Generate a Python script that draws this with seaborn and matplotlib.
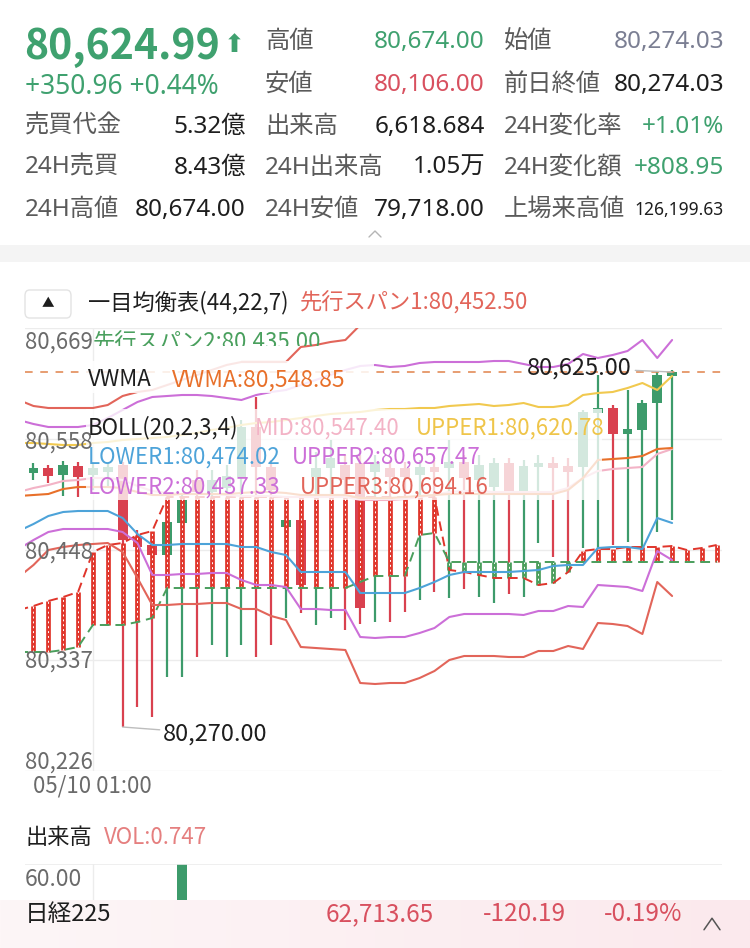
import numpy as np
import pandas as pd
import matplotlib.pyplot as plt
import seaborn as sns
from matplotlib.patches import Rectangle, FancyBboxPatch
from matplotlib.lines import Line2D
from matplotlib.colors import LinearSegmentedColormap

sns.set_theme(style="white")
plt.rcParams["font.family"] = ["Noto Sans CJK JP", "DejaVu Sans"]
HEAD_FONT = ["Noto Sans", "Noto Sans CJK JP"]

W, H = 750, 948

# ---------------- data ----------------
band_idx = list(range(-1, 44))
upper3 = [80597, 80591, 80589, 80589, 80589, 80589, 80592, 80601, 80605, 80607, 80612, 80617, 80622, 80627, 80632,
          80635, 80635, 80635, 80635, 80650, 80652, 80655, 80657, 80672, 80675, 80674, 80675, 80677, 80677, 80677,
          80679, 80679, 80679, 80677, 80675, 80671, 80675, 80679, 80692, 80689, 80691, 80697, 80707, 80687, 80694]
upper2 = [80577, 80573, 80570, 80570, 80570, 80572, 80579, 80587, 80595, 80600, 80601, 80602, 80602, 80601, 80599,
          80597, 80602, 80605, 80607, 80612, 80617, 80622, 80627, 80631, 80632, 80630, 80631, 80634, 80635, 80635,
          80635, 80635, 80636, 80636, 80633, 80630, 80630, 80633, 80643, 80639, 80642, 80646, 80657, 80639, 80657]
upper1 = [80554, 80554, 80553, 80552, 80552, 80554, 80555, 80557, 80558, 80559, 80560, 80562, 80564, 80567, 80569,
          80572, 80574, 80575, 80577, 80579, 80581, 80583, 80584, 80585, 80587, 80588, 80588, 80589, 80589, 80591,
          80592, 80593, 80591, 80592, 80594, 80590, 80590, 80592, 80602, 80604, 80605, 80609, 80614, 80607, 80621]
mid = [80505, 80509, 80512, 80516, 80517, 80519, 80519, 80517, 80511, 80506, 80504, 80503, 80503, 80503, 80502,
       80501, 80501, 80501, 80500, 80500, 80500, 80500, 80500, 80497, 80497, 80497, 80498, 80500, 80502, 80505,
       80506, 80506, 80505, 80505, 80505, 80505, 80505, 80509, 80519, 80526, 80528, 80529, 80530, 80543, 80548]
vwma = [80501, 80502, 80503, 80508, 80510, 80510, 80510, 80509, 80505, 80502, 80502, 80503, 80503, 80503, 80503,
        80504, 80505, 80505, 80504, 80502, 80502, 80502, 80502, 80499, 80499, 80499, 80500, 80501, 80502, 80503,
        80503, 80503, 80503, 80503, 80503, 80503, 80503, 80507, 80519, 80537, 80538, 80539, 80541, 80548, 80549]
lower1 = [80466, 80473, 80481, 80485, 80486, 80486, 80486, 80479, 80463, 80452, 80452, 80453, 80453, 80453, 80453,
          80450, 80450, 80445, 80442, 80425, 80425, 80425, 80425, 80404, 80404, 80404, 80404, 80409, 80415, 80422,
          80425, 80425, 80425, 80425, 80426, 80427, 80431, 80432, 80432, 80449, 80450, 80450, 80448, 80479, 80474]
lower2 = [80448, 80457, 80465, 80468, 80468, 80468, 80468, 80465, 80454, 80422, 80422, 80423, 80423, 80424, 80424,
          80417, 80412, 80412, 80410, 80388, 80388, 80387, 80387, 80360, 80359, 80360, 80360, 80364, 80369, 80380,
          80383, 80383, 80383, 80383, 80382, 80386, 80386, 80391, 80390, 80412, 80411, 80410, 80406, 80446, 80437]
lower3 = [80420, 80432, 80447, 80450, 80452, 80453, 80454, 80445, 80419, 80392, 80392, 80393, 80393, 80394, 80394,
          80388, 80388, 80381, 80377, 80350, 80349, 80348, 80347, 80314, 80313, 80314, 80314, 80319, 80326, 80337,
          80341, 80341, 80341, 80340, 80340, 80346, 80346, 80351, 80348, 80374, 80373, 80371, 80363, 80415, 80401]

cloud_idx = list(range(-1, 47))
span1 = [80387, 80391, 80396, 80400, 80405, 80445, 80452, 80454, 80462, 80466, 80500, 80500, 80500, 80500, 80500,
         80500, 80500, 80500, 80500, 80500, 80500, 80500, 80500, 80500, 80500, 80500, 80500, 80500, 80500, 80427,
         80425, 80422, 80419, 80419, 80419, 80412, 80414, 80425, 80446, 80448, 80448, 80450, 80450, 80450, 80451,
         80447, 80449, 80452]
span2 = [80345, 80345, 80345, 80347, 80350, 80372, 80372, 80372, 80375, 80379, 80409, 80409, 80409, 80409, 80409,
         80409, 80409, 80409, 80409, 80409, 80409, 80409, 80409, 80415, 80421, 80421, 80421, 80462, 80464, 80435,
         80435, 80435, 80435, 80435, 80435, 80435, 80435, 80435, 80435, 80435, 80435, 80435, 80435, 80435, 80435,
         80435, 80435, 80435]

candle_idx = list(range(44))
opens = [80524, 80529, 80522, 80531, 80522, 80525, 80532, 80460, 80452, 80442, 80474, 80517, 80505, 80509, 80520,
         80570, 80530, 80470, 80477, 80520, 80529, 80532, 80534, 80525, 80529, 80529, 80522, 80530, 80529, 80535,
         80517, 80510, 80534, 80504, 80530, 80534, 80531, 80530, 80584, 80589, 80563, 80567, 80594, 80621]
closes = [80529, 80521, 80532, 80520, 80529, 80530, 80457, 80450, 80442, 80475, 80497, 80505, 80517, 80521, 80570,
          80530, 80507, 80477, 80412, 80529, 80539, 80517, 80389, 80535, 80520, 80520, 80530, 80525, 80535, 80519,
          80532, 80534, 80504, 80531, 80534, 80529, 80525, 80585, 80589, 80563, 80568, 80594, 80622, 80625]
highs = [80534, 80532, 80536, 80535, 80534, 80535, 80535, 80467, 80457, 80482, 80502, 80527, 80527, 80532, 80577,
         80600, 80537, 80492, 80487, 80545, 80557, 80542, 80542, 80542, 80537, 80535, 80537, 80537, 80557, 80542,
         80542, 80539, 80539, 80537, 80542, 80540, 80539, 80587, 80622, 80592, 80607, 80597, 80625, 80627]
lows = [80517, 80514, 80501, 80500, 80507, 80509, 80270, 80290, 80280, 80320, 80320, 80340, 80352, 80340, 80352,
        80340, 80352, 80379, 80384, 80372, 80379, 80367, 80373, 80375, 80375, 80385, 80397, 80405, 80399, 80408,
        80400, 80394, 80403, 80400, 80454, 80440, 80424, 80449, 80449, 80452, 80455, 80447, 80465, 80477]
volumes = [3, 2, 4, 3, 2, 2, 18, 9, 7, 12, 75, 6, 5, 5, 8, 7, 6, 5, 10, 4, 4, 5, 14, 4, 3, 3, 3, 3, 4, 3,
           3, 4, 4, 4, 3, 2, 2, 6, 5, 5, 3, 4, 6, 1]

ytick_vals = [80226, 80336.75, 80447.5, 80558.25, 80669]
ytick_labels = ["80,226", "80,337", "80,448", "80,558", "80,669"]
last_price = 80625

GREEN = "#3d9b6b"
RED = "#d9414f"
CLOUD_RED = "#e0352b"
CLOUD_GREEN = "#4a9e5c"
BLUE = "#4da3d9"
PURPLE = "#cc6fd8"
BAND_RED = "#e2655a"
YELLOW = "#f1c94f"
PINK = "#f3b3c6"
ORANGE = "#e8702a"
HEAD_GREEN = "#3fa16f"
HEAD_RED = "#d8505f"
LABEL = "#5a5a5a"
DARK = "#1e1e1e"
AXIS_TXT = "#6b6b6b"


def fx(x):
    return x / W


def fy(y):
    return 1 - y / H


fig = plt.figure(figsize=(7.5, 9.48), dpi=100)
fig.patch.set_facecolor("white")

# ---------------- header ----------------
fig.text(fx(24), fy(47), "80,624.99", fontsize=29.5, fontweight="bold", color=HEAD_GREEN, va="center")
fig.text(fx(224), fy(45), "⬆", fontsize=18, color=HEAD_GREEN, va="center", family=["DejaVu Sans"])
fig.text(fx(25), fy(87), "+350.96 +0.44%", fontsize=19, color=HEAD_GREEN, va="center", family=HEAD_FONT)

rows_y = [42, 85, 127, 168, 210]
left_col = [None, None, ("売買代金", "5.32億", DARK), ("24H売買", "8.43億", DARK), ("24H高値", "80,674.00", DARK)]
mid_col = [("高値", "80,674.00", HEAD_GREEN), ("安値", "80,106.00", HEAD_RED), ("出来高", "6,618.684", DARK),
           ("24H出来高", "1.05万", DARK), ("24H安値", "79,718.00", DARK)]
right_col = [("始値", "80,274.03", "#7b7f93"), ("前日終値", "80,274.03", DARK), ("24H変化率", "+1.01%", HEAD_GREEN),
             ("24H変化額", "+808.95", HEAD_GREEN), ("上場来高値", "126,199.63", DARK)]
for cols, x0, x1 in [(left_col, 25, 246), (mid_col, 265, 485), (right_col, 504, 724)]:
    for y, item in zip(rows_y, cols):
        if item is None:
            continue
        lab, val, col = item
        fig.text(fx(x0), fy(y), lab, fontsize=17.5, color=LABEL, va="center", family=HEAD_FONT)
        size = 12.5 if val == "126,199.63" else 17.5
        fig.text(fx(x1), fy(y), val, fontsize=size, color=col, va="center", ha="right", family=HEAD_FONT)

fig.add_artist(Line2D([fx(369), fx(375), fx(381)], [fy(237), fy(231), fy(237)], transform=fig.transFigure,
                      color="#b5b5b5", lw=1))
fig.add_artist(Rectangle((0, fy(262)), 1, 17 / H, transform=fig.transFigure, color="#f4f4f4", lw=0))

# ---------------- indicator legend top ----------------
fig.add_artist(FancyBboxPatch((fx(25), fy(318)), 46 / W, 28 / H, boxstyle="round,pad=0,rounding_size=0.006",
                              transform=fig.transFigure, facecolor="white", edgecolor="#e3e3e3", lw=1))
fig.text(fx(48), fy(304), "▲", fontsize=9, color=DARK, ha="center", va="center")
fig.text(fx(88), fy(303), "一目均衡表(44,22,7)", fontsize=16, color=DARK, va="center")
fig.text(fx(300), fy(303), "先行スパン1:80,452.50", fontsize=16, color=BAND_RED, va="center")

# ---------------- main chart ----------------
ax = fig.add_axes([fx(25), fy(771), 697 / W, 443 / H])
ax.set_xlim(-0.572, 46.36)
ax.set_ylim(80226, 80669)
ax.set_yticks(ytick_vals)
ax.set_xticks([])
ax.tick_params(left=False, labelleft=False)
for s in ax.spines.values():
    s.set_visible(False)
ax.grid(axis="y", color="#ececec", lw=1)
ax.axhline(80669, color="#ececec", lw=1.2)
ax.axvline(4, color="#ececec", lw=1)

# candles
o = np.array(opens)
c = np.array(closes)
ci = np.array(candle_idx)
ccol = [GREEN if cc >= oo else RED for oo, cc in zip(o, c)]
ax.vlines(ci, lows, highs, colors=ccol, lw=1.6, zorder=2)
ax.bar(ci, np.maximum(np.abs(c - o), 1.5), bottom=np.minimum(o, c), width=0.66, color=ccol, lw=0, zorder=2)

# ichimoku cloud
s1 = np.array(span1)
s2 = np.array(span2)
xi = np.array(cloud_idx)
red_part = s1 >= s2
ax.vlines(xi[red_part], s2[red_part], s1[red_part], colors=CLOUD_RED, lw=3.4, zorder=3)
ax.vlines(xi[~red_part], s1[~red_part], s2[~red_part], colors=CLOUD_GREEN, lw=3.4, zorder=3)
ax.vlines(xi, np.minimum(s1, s2), np.maximum(s1, s2), colors="white", lw=0.7, linestyles=(0, (2, 3)), zorder=3.1)
sns.lineplot(x=cloud_idx, y=span1, color=CLOUD_RED, lw=1.4, linestyle=(0, (5, 3)), ax=ax, zorder=3.2)
sns.lineplot(x=cloud_idx, y=span2, color=CLOUD_GREEN, lw=1.4, linestyle=(0, (5, 3)), ax=ax, zorder=3.2)

# bollinger + vwma
for vals, col in [(upper3, BAND_RED), (upper2, PURPLE), (upper1, YELLOW), (mid, PINK), (vwma, ORANGE),
                  (lower1, BLUE), (lower2, PURPLE), (lower3, BAND_RED)]:
    sns.lineplot(x=band_idx, y=vals, color=col, lw=1.5, ax=ax, zorder=4)

ax.axhline(last_price, color="#e0834a", lw=1.1, linestyle=(0, (5, 5)), zorder=4)
ax.set_xlabel("")
ax.set_ylabel("")

# legend backdrops
ax.add_patch(Rectangle((fx(86), fy(393)), 288 / W, 32 / H, transform=fig.transFigure,
                       facecolor="white", alpha=0.85, lw=0, zorder=6))
ax.add_patch(Rectangle((fx(86), fy(500)), 516 / W, 91 / H, transform=fig.transFigure,
                       facecolor="white", alpha=0.78, lw=0, zorder=6))

ax.annotate("80,625.00", xy=(43, last_price), xytext=(632, H - 368), textcoords="figure pixels",
            ha="right", va="center", fontsize=17, color=DARK, zorder=7,
            arrowprops=dict(arrowstyle="-", color="#bdbdbd", lw=1, shrinkA=0, shrinkB=0))
ax.annotate("80,270.00", xy=(6, 80270), xytext=(163, H - 734), textcoords="figure pixels",
            ha="left", va="center", fontsize=17, color=DARK, zorder=7,
            arrowprops=dict(arrowstyle="-", color="#bdbdbd", lw=1, shrinkA=0, shrinkB=0))

for val, lab, ypx in zip(ytick_vals, ytick_labels, [762, 661, 552, 442, 342]):
    fig.text(fx(25), fy(ypx), lab, fontsize=16, color=AXIS_TXT, va="center")

t2 = fig.text(fx(93), fy(343), "先行スパン2:80,435.00", fontsize=16, color="#4aa05e", va="center")
t2.set_clip_path(Rectangle((0, fy(346)), 1, 346 / H, transform=fig.transFigure))

fig.text(fx(88), fy(380), "VWMA", fontsize=16, color=DARK, va="center")
fig.text(fx(172), fy(380), "VWMA:80,548.85", fontsize=16.5, color=ORANGE, va="center")
fig.text(fx(88), fy(428), "BOLL(20,2,3,4)", fontsize=16, color=DARK, va="center")
fig.text(fx(255), fy(428), "MID:80,547.40", fontsize=16, color=PINK, va="center")
fig.text(fx(416), fy(428), "UPPER1:80,620.78", fontsize=16, color="#efc54a", va="center")
fig.text(fx(88), fy(457), "LOWER1:80,474.02", fontsize=16, color=BLUE, va="center")
fig.text(fx(292), fy(457), "UPPER2:80,657.47", fontsize=16, color=PURPLE, va="center")
fig.text(fx(88), fy(487), "LOWER2:80,437.33", fontsize=16, color=PURPLE, va="center")
fig.text(fx(300), fy(487), "UPPER3:80,694.16", fontsize=16, color=BAND_RED, va="center")

fig.text(fx(33), fy(786), "05/10 01:00", fontsize=16, color=AXIS_TXT, va="center")

# ---------------- volume ----------------
fig.text(fx(25), fy(838), "出来高", fontsize=16, color=DARK, va="center")
fig.text(fx(104), fy(838), "VOL:0.747", fontsize=16, color="#e57f7f", va="center")

axv = fig.add_axes([fx(25), 0, 697 / W, 84 / H])
axv.set_xlim(-0.572, 46.36)
axv.set_ylim(0, 60)
axv.set_xticks([])
axv.set_yticks([])
for s in axv.spines.values():
    s.set_visible(False)
axv.axhline(60, color="#ececec", lw=1.2)
axv.axvline(4, color="#ececec", lw=1)
axv.bar(candle_idx, volumes, width=0.66, color=ccol, lw=0)
fig.text(fx(25), fy(879), "60.00", fontsize=16.5, color=AXIS_TXT, va="center")

# ---------------- bottom ticker ----------------
axb = fig.add_axes([0, 0, 1, 48 / H], zorder=5)
grad = np.linspace(0, 1, 256).reshape(1, -1)
axb.imshow(grad, aspect="auto", extent=[0, 1, 0, 1],
           cmap=LinearSegmentedColormap.from_list("bar", ["#fdf6f7", "#fbe9ed"]))
axb.set_xlim(0, 1)
axb.set_ylim(0, 1)
axb.axis("off")
axb.text(fx(25), 0.7, "日経225", fontsize=17, color=DARK, va="center")
axb.text(fx(326), 0.7, "62,713.65", fontsize=17.5, color=HEAD_RED, va="center")
axb.text(fx(483), 0.7, "-120.19", fontsize=17.5, color=HEAD_RED, va="center")
axb.text(fx(604), 0.7, "-0.19%", fontsize=17.5, color=HEAD_RED, va="center")
axb.plot([fx(704), fx(712), fx(720)], [0.38, 0.62, 0.38], color="#555555", lw=1.1)

fig.savefig("out.png", dpi=100, facecolor="white")
